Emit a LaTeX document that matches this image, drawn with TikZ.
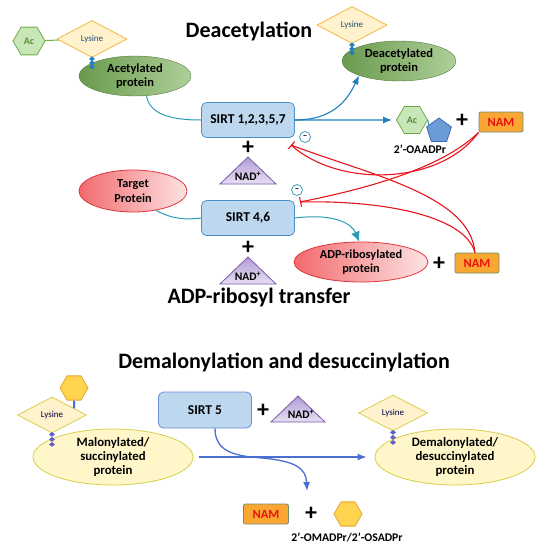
\documentclass[tikz,border=0pt]{standalone}
\usepackage{fontspec}
\setmainfont{Carlito}
\usetikzlibrary{shapes.geometric,arrows.meta,calc}

\definecolor{acgreen}{HTML}{70AD47}
\definecolor{acfill}{HTML}{C8E6B8}
\definecolor{protdark}{HTML}{6A9A4E}
\definecolor{protlight}{HTML}{AFCF98}
\definecolor{protedge}{HTML}{4E7D3A}
\definecolor{lysfill}{HTML}{FFF2CC}
\definecolor{lysedge}{HTML}{F4B942}
\definecolor{lystext}{HTML}{1F4E79}
\definecolor{sirtfill}{HTML}{BDD7EE}
\definecolor{sirtedge}{HTML}{4A90C8}
\definecolor{flowblue}{HTML}{1F7FBF}
\definecolor{flowteal}{HTML}{2B9BB8}
\definecolor{nadfill}{HTML}{C9B8E6}
\definecolor{nadedge}{HTML}{7B5AA6}
\definecolor{redfill}{HTML}{F26A6D}
\definecolor{pinkfill}{HTML}{FDE3E3}
\definecolor{rededge}{HTML}{E0353C}
\definecolor{inhred}{HTML}{E8141B}
\definecolor{namfill}{HTML}{F9A633}
\definecolor{namedge}{HTML}{6E8F6A}
\definecolor{namtext}{HTML}{E81010}
\definecolor{pentfill}{HTML}{6B9BD8}
\definecolor{pentedge}{HTML}{3C6CB0}
\definecolor{paleyellow}{HTML}{FFF6CA}
\definecolor{yellowedge}{HTML}{D8D04A}
\definecolor{hexorange}{HTML}{FFD44F}
\definecolor{hexedge}{HTML}{E5A531}
\definecolor{lowblue}{HTML}{4A6FD0}
\definecolor{beadpurple}{HTML}{5F5FC8}
\definecolor{minusedge}{HTML}{3C9DB0}

\begin{document}
\begin{tikzpicture}[x=1pt, y=-1pt, >={Latex[length=9pt,width=7pt]},
  title/.style={font=\fontsize{22}{24}\selectfont\bfseries},
  acgon/.style={regular polygon, regular polygon sides=6, minimum size=32pt,
    inner sep=0pt, draw=acgreen, fill=acfill, line width=0.8pt,
    text=acgreen!80!black, font=\fontsize{10}{11}\selectfont\bfseries},
  lysbox/.style={diamond, minimum width=70pt, minimum height=37pt,
    inner sep=0pt, draw=lysedge, fill=lysfill, line width=0.8pt,
    text=lystext, font=\fontsize{9}{10}\selectfont},
  protgreen/.style={ellipse, minimum width=112pt, minimum height=40pt,
    inner sep=0pt, draw=protedge, left color=protdark, right color=protlight,
    align=center, font=\fontsize{12.5}{14.5}\selectfont\bfseries},
  protred/.style={ellipse, inner sep=0pt, draw=rededge, line width=0.8pt,
    left color=redfill, right color=pinkfill, align=center,
    font=\fontsize{12.3}{14.5}\selectfont\bfseries},
  protyellow/.style={ellipse, minimum width=160pt, minimum height=56pt,
    inner sep=0pt, draw=yellowedge, fill=paleyellow, line width=0.8pt,
    align=center, font=\fontsize{12.8}{14}\selectfont\bfseries},
  sirt/.style={rectangle, rounded corners=5pt, minimum width=93pt,
    minimum height=35pt, draw=sirtedge, fill=sirtfill, line width=0.8pt,
    font=\fontsize{13.5}{15}\selectfont\bfseries},
  nam/.style={rectangle, rounded corners=2pt, minimum width=44pt,
    minimum height=20pt, draw=namedge, fill=namfill, line width=0.8pt,
    text=namtext, font=\fontsize{12.5}{13}\selectfont\bfseries},
  nad/.style={draw=nadedge, top color=nadfill!70!nadedge,
    bottom color=nadfill!45, line width=0.8pt},
  nadtext/.style={inner sep=0pt, font=\fontsize{11.5}{12}\selectfont\bfseries},
  plus/.style={inner sep=0pt, font=\fontsize{24}{24}\selectfont\bfseries},
  minus/.style={circle, draw=minusedge, fill=white, minimum size=11pt,
    inner sep=0pt, line width=0.8pt, font=\fontsize{9}{9}\selectfont\bfseries},
  inhib/.style={draw=inhred, line width=1.1pt},
  flow/.style={draw=flowblue, line width=1.1pt},
  tealline/.style={draw=flowteal, line width=1pt},
  lowflow/.style={draw=lowblue, line width=1.3pt},
  bead/.style={diamond, minimum width=6pt, minimum height=5pt, inner sep=0pt},
  smalltext/.style={font=\fontsize{11.7}{13}\selectfont\bfseries}]
  \useasboundingbox (0,0) rectangle (542,550);

  % --- Deacetylation ---
  \node[title] (titleA) at (249,31) {Deacetylation};
  \node[protgreen] (acprot) at (135,76) {Acetylated\\protein};
  \node[lysbox] (lysA) at (92,39) {Lysine};
  \node[acgon] (acA) at (29,41) {Ac};
  \draw[acgreen, line width=1pt] (acA) -- (lysA);
  \foreach \k in {0,1,2}
    \node[bead, fill=flowblue] at ($(lysA.south)+(0,1+4*\k)$) {};
  \node[sirt] (sirtA) at (248,120) {SIRT 1,2,3,5,7};
  \node[protgreen, minimum width=114pt] (deprot) at (399,61)
    {Deacetylated\\protein};
  \node[lysbox] (lysB) at (352,25) {Lysine};
  \foreach \k in {0,1,2}
    \node[bead, fill=flowblue] at ($(lysB.south)+(0,1+4*\k)$) {};
  \node[acgon, minimum size=31pt] (acB) at (412,120) {Ac};
  \node[regular polygon, regular polygon sides=5, minimum size=26pt,
    inner sep=0pt, draw=pentedge, fill=pentfill, line width=0.8pt]
    (pent) at (439,131) {};
  \draw[flowteal, line width=1pt] (acB.east) -- (pent.150);
  \node[smalltext] (oaadpr) at (420,149) {2’-OAADPr};
  \node[plus] (plusA) at (462,121) {+};
  \node[nam] (namA) at (501,122) {NAM};
  \node[plus] (plusB) at (248,148) {+};
  \path[nad] (248,157) -- ++(28,27) -- ++(-56,0) -- cycle;
  \node[nadtext] (nadA) at (248,176) {NAD\textsuperscript{+}};
  \draw[tealline] (acprot.300) .. controls (150,115) and (172,120) ..
    (sirtA.west);
  \draw[flow, ->, shorten >=4pt] (sirtA.east) -- (acB.west);
  \draw[flow, ->] (sirtA.east) .. controls (338,120) and (350,94) ..
    (deprot.200);

  % --- ADP-ribosyl transfer ---
  \node[protred, minimum width=108pt, minimum height=42pt] (target)
    at (133,191) {Target\\Protein};
  \node[sirt] (sirtB) at (248,218) {SIRT 4,6};
  \node[plus] (plusC) at (248,248) {+};
  \path[nad] (248,257) -- ++(28,27) -- ++(-56,0) -- cycle;
  \node[nadtext] (nadB) at (248,276) {NAD\textsuperscript{+}};
  \node[protred, minimum width=134pt, minimum height=40pt] (adprot)
    at (361,262) {ADP-ribosylated\\protein};
  \node[plus] (plusD) at (439,264) {+};
  \node[nam] (namB) at (477,263) {NAM};
  \node[title] (titleB) at (259,298) {ADP-ribosyl transfer};
  \draw[tealline] (target.320) .. controls (172,219) and (185,220) ..
    (sirtB.west);
  \draw[tealline, -{Latex[length=10pt,width=9pt]}] (sirtB.east)
    .. controls (335,213) and (352,224) .. (adprot.95);

  % NAM inhibits both sirtuin groups
  \coordinate (barA) at (291,145);
  \coordinate (barB) at (300,202);
  \node[minus] (minusA) at (305,137) {–};
  \node[minus] (minusB) at (297,190) {–};
  \draw[inhib, -{Bar[width=10pt]}] (namA.south west)
    .. controls (440,185) and (340,188) .. (barA);
  \draw[inhib] ([xshift=-2pt]namB.north)
    .. controls (470,195) and (370,175) .. (barA);
  \draw[inhib, -{Bar[width=10pt]}] (namA.south west)
    .. controls (440,170) and (360,190) .. (barB);
  \draw[inhib] ([xshift=-2pt]namB.north)
    .. controls (465,215) and (380,200) .. (barB);

  % --- Demalonylation and desuccinylation ---
  \node[title] (titleC) at (284,362) {Demalonylation and desuccinylation};
  \node[protyellow] (malprot) at (113,457)
    {Malonylated/\\succinylated\\protein};
  \node[lysbox, draw=yellowedge, text=black!70!blue, minimum width=69pt,
    minimum height=36pt] (lysC) at (52,415) {Lysine};
  \node[regular polygon, regular polygon sides=6, minimum size=28pt,
    inner sep=0pt, draw=hexedge, fill=hexorange, line width=0.8pt]
    (hexC) at (74,388) {};
  \draw[lowflow, line width=2pt] (hexC.south) -- (lysC.17);
  \foreach \k in {0,1,2}
    \node[bead, fill=beadpurple] at ($(lysC.south)+(0,1+5*\k)$) {};
  \node[sirt, draw=lowblue!80, minimum height=36pt] (sirtC) at (205,410)
    {SIRT 5};
  \node[plus] (plusE) at (263,411) {+};
  \path[nad] (298,396) -- ++(27,26) -- ++(-54,0) -- cycle;
  \node[nadtext] (nadC) at (301,414) {NAD\textsuperscript{+}};
  \node[protyellow] (demalprot) at (455,457)
    {Demalonylated/\\desuccinylated\\protein};
  \node[lysbox, draw=yellowedge, text=black!70!blue, minimum width=69pt,
    minimum height=36pt] (lysD) at (393,413) {Lysine};
  \foreach \k in {0,1,2}
    \node[bead, fill=beadpurple] at ($(lysD.south)+(0,1+5*\k)$) {};
  \node[nam, minimum width=45pt] (namC) at (266,514) {NAM};
  \node[plus] (plusF) at (311,514) {+};
  \node[regular polygon, regular polygon sides=6, minimum size=28pt,
    inner sep=0pt, draw=hexedge, fill=hexorange, line width=0.8pt]
    (hexD) at (348,514) {};
  \node[smalltext] (osadpr) at (347,538) {2’-OMADPr/2’-OSADPr};
  \coordinate (prodC) at (307,491);
  \draw[lowflow, ->, shorten <=6pt, shorten >=8pt] (malprot.east) --
    (demalprot.west);
  \draw[lowflow, ->] ([xshift=10pt]sirtC.south)
    .. controls (215,452) and (235,456) .. (262,458)
    .. controls (295,461) and (306,468) .. (prodC);
\end{tikzpicture}
\end{document}
